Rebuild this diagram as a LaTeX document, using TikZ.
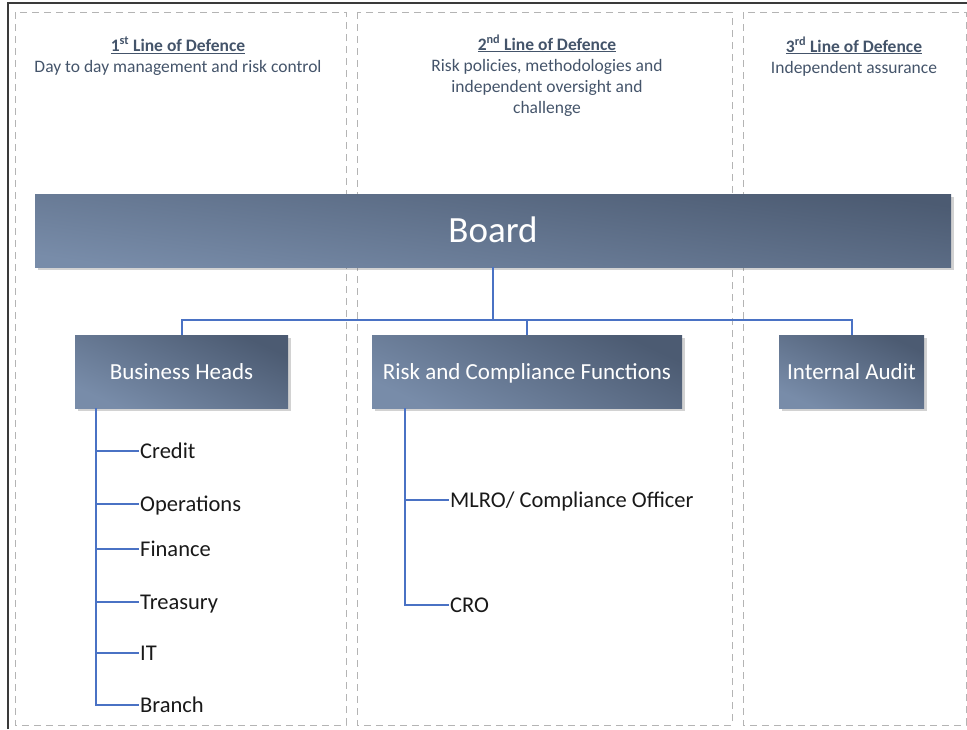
\documentclass[tikz,border=0pt]{standalone}
\usepackage{fontspec}
\setmainfont{Carlito}
\usepackage{tikz}
\usetikzlibrary{positioning, shadows}
\definecolor{boxdark}{HTML}{4C5B72}
\definecolor{boxlight}{HTML}{788CA9}
\definecolor{linkblue}{HTML}{4A72C4}
\definecolor{headgray}{HTML}{44546A}
\definecolor{colgray}{HTML}{B4B4B4}
\definecolor{framegray}{HTML}{3A3A3A}
\tikzset{>=stealth}

\begin{document}
\begin{tikzpicture}[x=1pt, y=-1pt,
	orgbox/.style={text=white, top color=boxdark, bottom color=boxlight, shading angle=-25,
		minimum height=73pt, inner sep=0pt, text height=17pt, text depth=2pt,
		drop shadow={shadow xshift=2.5pt, shadow yshift=-2.5pt, opacity=0.25, fill=black!70},
		font=\fontsize{23}{27}\selectfont},
	heading/.style={anchor=north, align=center, text=headgray, inner sep=0pt,
		font=\fontsize{17.5}{21}\selectfont},
	item/.style={anchor=west, inner sep=1pt, text height=18pt, text depth=4pt,
		text=black!90, font=\fontsize{22.5}{27}\selectfont},
	link/.style={draw=linkblue, line width=2pt},
	column/.style={draw=colgray, line width=1pt, dash pattern=on 7pt off 5pt}]
	\useasboundingbox (0,0) rectangle (967,729);
	% outer frame and the three lines of defence
	\draw [framegray, line width=2pt] (8,729) -- (8,3) -- (967,3);
	\draw [column] (15,12) rectangle (346,725);
	\draw [column] (357,12) rectangle (732,725);
	\draw [column] (743,12) rectangle (966,725);
	\node [heading] (L1) at (178,37) {\underline{\textbf{1\textsuperscript{st} Line of Defence}}\\Day to day management and risk control};
	\node [heading] (L2) at (547,35) {\underline{\textbf{2\textsuperscript{nd} Line of Defence}}\\Risk policies, methodologies and\\independent oversight and\\challenge};
	\node [heading] (L3) at (854,37) {\underline{\textbf{3\textsuperscript{rd} Line of Defence}}\\Independent assurance};
	% boxes
	\node [orgbox, minimum width=916pt, shading angle=-8, text height=25pt, text depth=2pt,
		font=\fontsize{37}{44}\selectfont] (Board) at (493,230.5) {Board};
	\node [orgbox, minimum width=213pt] (BH) at (181.5,371.5) {Business Heads};
	\node [orgbox, minimum width=310pt] (RC) at (527,371.5) {Risk and Compliance Functions};
	\node [orgbox, minimum width=145pt] (IA) at (851.5,371.5) {Internal Audit};
	\draw [link] (Board.south) -- ++(0,53) coordinate (J);
	\draw [link] (BH.north) |- (J) -| (IA.north);
	\draw [link] (RC.north) -- (RC.north |- J);
	% first line list
	\coordinate (BHroot) at ([xshift=21pt]BH.south west);
	\foreach \name/\y in {Credit/451, Operations/504, Finance/549, Treasury/602, IT/653, Branch/705}{
		\node [item] (\name) at (139,\y) {\name};
		\draw [link] (BHroot) |- (\name.west);
	}
	% second line list
	\coordinate (RCroot) at ([xshift=33pt]RC.south west);
	\node [item] (MLRO) at (449,500) {MLRO/ Compliance Officer};
	\node [item] (CRO) at (449,605) {CRO};
	\draw [link] (RCroot) |- (MLRO.west);
	\draw [link] (RCroot) |- (CRO.west);
	%\node at (493,720) {};
\end{tikzpicture}
\end{document}
